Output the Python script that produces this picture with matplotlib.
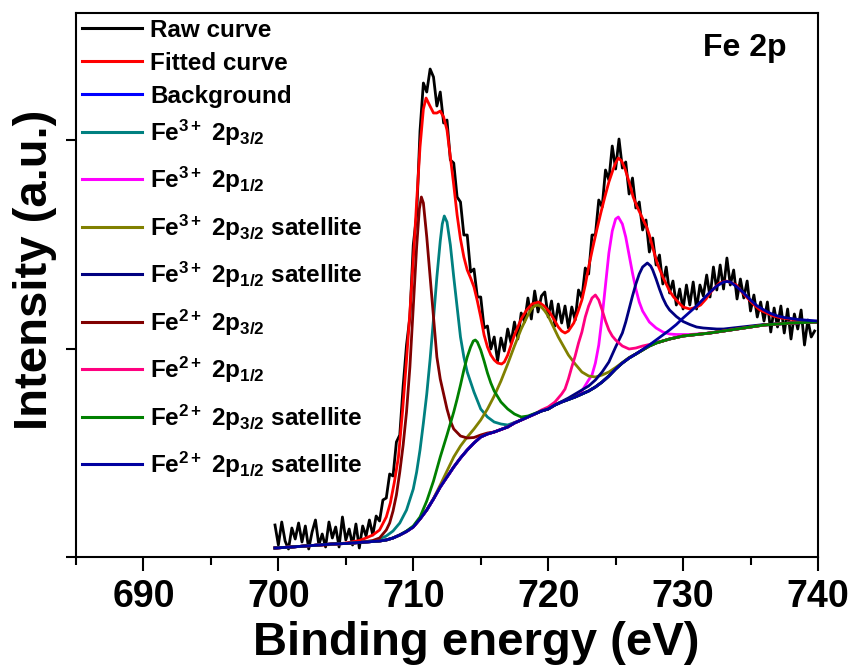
import numpy as np
import matplotlib
matplotlib.use('Agg')
import matplotlib.pyplot as plt
from matplotlib.ticker import MultipleLocator, NullFormatter

# ~~~~~~~~~~~~~~~~~~~~~~~~~~~~~~~~~~~~~~~~~~~~~~~~~~~~~~~~~~~~~~~~~~~~~~~~
# Fe 2p XPS spectrum, intensity in arbitrary units

# raw spectrum, 0.25 eV step from 699.75 eV
raw_counts = [32, 12, 35, 16, 8, 29, 18, 34,
              15, 31, 8, 25, 37, 12, 23, 10,
              35, 19, 30, 10, 40, 17, 28, 12,
              33, 9, 31, 21, 37, 22, 41, 36,
              57, 59, 83, 81, 115, 122, 171, 212,
              240, 312, 342, 426, 474, 465, 488, 480,
              451, 465, 434, 437, 397, 394, 360, 355,
              322, 322, 285, 288, 260, 260, 229, 231,
              208, 220, 196, 219, 206, 228, 214, 235,
              218, 244, 235, 259, 238, 266, 245, 261,
              265, 240, 256, 231, 253, 234, 251, 229,
              250, 237, 267, 259, 289, 283, 322, 322,
              357, 350, 387, 377, 411, 388, 418, 389,
              395, 363, 379, 349, 355, 327, 337, 305,
              319, 292, 302, 273, 290, 264, 276, 252,
              268, 248, 272, 252, 275, 248, 272, 261,
              282, 260, 290, 267, 292, 268, 299, 272,
              287, 258, 278, 259, 276, 246, 262, 240,
              255, 236, 255, 225, 249, 230, 251, 224,
              248, 218, 243, 228, 247, 212, 237, 220,
              226]
raw_energy = np.arange(len(raw_counts)) * 0.25 + 699.75

fit_x = [699.75, 702, 704, 705, 706, 706.5, 707, 707.5, 708, 708.3,
         708.6, 708.9, 709.2, 709.5, 709.75, 710, 710.25, 710.5, 710.75, 710.95,
         711.2, 711.5, 711.75, 712, 712.25, 712.5, 712.75, 713, 713.25, 713.5,
         713.75, 714, 714.25, 714.5, 714.75, 715, 715.25, 715.5, 715.75, 716,
         716.25, 716.55, 716.75, 717, 717.5, 718, 718.4, 718.8, 719.3, 719.7,
         720.1, 720.5, 720.75, 721, 721.25, 721.5, 721.9, 722.2, 722.5, 722.75,
         723, 723.3, 723.6, 723.9, 724.2, 724.5, 724.8, 725, 725.2, 725.45,
         725.7, 726, 726.3, 726.6, 727.05, 727.3, 727.5, 727.8, 728.1, 728.5,
         729, 729.3, 729.7, 730, 730.5, 731, 731.3, 731.7, 732, 732.4,
         732.7, 733.2, 733.6, 733.95, 734.3, 734.7, 735.2, 735.7, 736.2, 736.7,
         737.3, 737.9, 738.8, 739.7, 740]
fit_y = [9, 11, 12.5, 14, 16.5, 19, 22, 27, 40, 54,
         75, 100, 145, 197, 245, 297, 355, 410, 448, 459,
         452, 444, 444, 446, 440, 427, 400, 372, 342, 318,
         300, 287, 279, 270, 256, 240, 222, 210, 202, 197,
         194, 193, 195, 202, 222, 238, 247, 253, 255, 251,
         245, 236, 230, 226, 224, 226, 234, 245, 257, 272,
         290, 309, 327, 344, 360, 375, 387, 394, 399, 396,
         388, 375, 360, 350, 337, 330, 322, 307, 293, 280,
         266, 260, 254, 250, 248, 250, 252, 258, 264, 270,
         274, 276, 274, 272, 266, 260, 253, 247, 244, 241,
         239, 238, 236, 235, 235]

bg_x = [699.75, 701, 702, 703, 704, 705, 706,
        707, 707.5, 708, 708.5, 709, 709.5, 710, 710.5, 711, 711.5,
        712, 712.5, 713, 713.5, 714, 714.5, 715, 715.5, 716, 716.5,
        717, 717.5, 718, 718.5, 719, 719.5, 720, 720.5, 721, 721.5,
        722, 722.5, 723, 723.5, 724, 724.5, 725, 725.5, 726, 726.5,
        727, 727.5, 728, 728.5, 729, 729.5, 730,
        731, 732, 733, 734, 735, 736, 737, 738, 739, 740]
bg_y = [9, 10, 11, 12, 13, 13.5, 14.5,
        15.5, 16, 17, 19, 22, 25.5, 30, 38, 47, 58,
        70, 80, 90, 99, 107, 114, 120, 123, 125, 127.5,
        130, 134, 137, 140, 143, 146, 148, 152, 155, 157.5,
        160, 163, 166, 170, 175, 181, 188, 194, 199, 203,
        207, 211, 214, 216, 218, 219.5, 221,
        222.5, 224, 226, 228, 230, 232, 233, 234, 234.5, 235]

# fitted components (only the part that rises above the background)
fe3_32_x = [707.5, 708, 708.5, 709, 709.5, 710, 710.25, 710.5, 710.75, 711,
            711.25, 711.5, 711.75, 712, 712.15, 712.3, 712.5, 712.75, 713, 713.25,
            713.5, 713.75, 714, 714.5, 715, 715.5, 716, 716.5, 717, 717.5]
fe3_32_y = [18, 21, 26, 34, 47, 68, 85, 107, 134, 163,
            198, 238, 280, 316, 333, 341, 335, 312, 280, 250,
            220, 200, 185, 165, 148, 140, 135, 133, 132, 134.5]

fe3_12_x = [721.5, 722, 722.5, 723, 723.25, 723.5, 723.75, 724, 724.25, 724.5,
            724.75, 725, 725.2, 725.5, 725.75, 726, 726.25, 726.5, 726.75, 727,
            727.5, 728, 728.5, 729, 729.5, 730, 730.5, 731]
fe3_12_y = [158, 162, 166, 177, 182, 194, 212, 240, 272, 304,
            326, 338, 340, 333, 320, 302, 284, 268, 255, 246,
            235, 229, 225, 223, 222.5, 222.5, 222.5, 223]

fe3_32sat_x = [711.5, 712, 712.5, 713, 713.5, 714, 714.5, 715, 715.5, 716,
               716.5, 717, 717.5, 718, 718.5, 718.75, 719, 719.25, 719.5, 719.75,
               720, 720.25, 720.5, 720.75, 721, 721.5, 722, 722.5, 723, 723.5,
               724, 724.5, 725, 725.5, 726]
fe3_32sat_y = [58.5, 72, 86, 100, 111, 120, 128, 137, 148, 161,
               176, 193, 211, 228, 242, 248, 251, 252, 250, 246,
               241, 234, 227, 220, 214, 202, 193, 185, 181, 180,
               182, 185, 189.5, 194.5, 199.5]

fe3_12sat_x = [721, 721.5, 722, 722.5, 723, 723.5, 724, 724.5, 725, 725.5,
               725.75, 726, 726.25, 726.5, 726.75, 727, 727.35, 727.6, 727.75, 728,
               728.25, 728.5, 728.75, 729, 729.5, 730, 730.5, 731, 731.5, 732,
               732.5, 733, 734, 735, 736]
fe3_12sat_y = [155.5, 159, 163, 167, 171, 177, 185, 195, 210, 224,
               235, 248, 261, 273, 283, 290, 294, 291, 287, 278,
               268, 259, 252, 247, 240.5, 235.5, 232.5, 230, 229, 228.5,
               228, 228, 229.5, 231, 232.5]

fe2_32_x = [706.5, 707, 707.5, 708, 708.25, 708.5, 708.75, 709, 709.25, 709.5,
            709.75, 710, 710.25, 710.45, 710.6, 710.75, 711, 711.25, 711.5, 711.75,
            712, 712.25, 712.5, 712.75, 713, 713.5, 714, 714.5, 715, 715.5]
fe2_32_y = [15.5, 16.5, 19, 27, 34, 46, 62, 85, 112, 145,
            190, 250, 310, 348, 360, 354, 320, 280, 240, 200,
            178, 163, 148, 136, 128, 121, 119, 119.5, 122, 124]

fe2_12_x = [719.5, 720, 720.5, 721, 721.25, 721.5, 721.75, 722, 722.25, 722.5,
            722.75, 723, 723.25, 723.5, 723.75, 724, 724.25, 724.5, 724.75, 725,
            725.5, 726, 726.5, 727, 727.5, 728]
fe2_12_y = [147, 150, 155, 163, 168, 178, 190, 201, 214, 225,
            240, 251, 259, 262, 257, 247, 236, 227, 221, 217,
            211, 208, 209, 211, 212.5, 214.5]

fe2_32sat_x = [709.5, 710, 710.5, 711, 711.5, 712, 712.5, 713, 713.25, 713.5,
               713.75, 714, 714.25, 714.45, 714.6, 714.75, 715, 715.25, 715.5, 715.75,
               716, 716.5, 717, 717.5, 718, 718.5, 719, 719.5]
fe2_32sat_y = [26, 31, 40, 56, 76, 100, 122, 145, 158, 172,
               187, 200, 210, 216, 217, 215, 207, 196, 184, 174,
               166, 155, 148, 143, 140, 141, 143.5, 146]

fe2_12sat_x = [727, 727.5, 728, 728.5, 729, 729.5, 730, 730.5, 731, 731.5,
               732, 732.5, 733, 733.25, 733.5, 734, 734.5, 735, 735.5, 736,
               736.5, 737, 737.5, 738, 738.5, 739, 739.5, 740]
fe2_12sat_y = [207.5, 212, 217, 222, 227, 232.5, 239, 245, 251, 258,
               265, 271, 275, 275.5, 275, 270, 264, 257, 251, 247,
               243.5, 241, 239.5, 238.5, 237.5, 237, 236.5, 236]

# ~~~~~~~~~~~~~~~~~~~~~~~~~~~~~~~~~~~~~~~~~~~~~~~~~~~~~~~~~~~~~~~~~~~~~~~~

def with_background(px, py):
    # component = background outside its own range, peak points inside
    xs = [x for x in bg_x if x < px[0]] + list(px) + [x for x in bg_x if x > px[-1]]
    ys = ([y for x, y in zip(bg_x, bg_y) if x < px[0]] + list(py)
          + [y for x, y in zip(bg_x, bg_y) if x > px[-1]])
    return xs, ys

# ~~~~~~~~~~~~~~~~~~~~~~~~~~~~~~~~~~~~~~~~~~~~~~~~~~~~~~~~~~~~~~~~~~~~~~~~

plt.rcParams['font.family'] = ['Liberation Sans', 'DejaVu Sans']
plt.rcParams['font.weight'] = 'bold'
plt.rcParams['mathtext.fontset'] = 'custom'
plt.rcParams['mathtext.rm'] = 'Liberation Sans:bold'
plt.rcParams['mathtext.bf'] = 'Liberation Sans:bold'
plt.rcParams['mathtext.it'] = 'Liberation Sans:bold'
plt.rcParams['mathtext.default'] = 'bf'

fig = plt.figure(figsize=(8.55, 6.71), dpi=100)
ax = fig.add_axes([0.0889, 0.1699, 0.8678, 0.8107])

lw = 2.0
lines = []
lines += ax.plot(raw_energy, raw_counts, color='black', lw=2.0, label='Raw curve')
lines += ax.plot(fit_x, fit_y, color='red', lw=lw, label='Fitted curve')
lines += ax.plot(bg_x, bg_y, color='#0000ff', lw=lw, label='Background')

components = [
    (fe3_32_x, fe3_32_y, '#008080', r'Fe$^{3+}$ 2p$_{3/2}$'),
    (fe3_12_x, fe3_12_y, '#ff00ff', r'Fe$^{3+}$ 2p$_{1/2}$'),
    (fe3_32sat_x, fe3_32sat_y, '#808000', r'Fe$^{3+}$ 2p$_{3/2}$ satellite'),
    (fe3_12sat_x, fe3_12sat_y, '#000080', r'Fe$^{3+}$ 2p$_{1/2}$ satellite'),
    (fe2_32_x, fe2_32_y, '#800000', r'Fe$^{2+}$ 2p$_{3/2}$'),
    (fe2_12_x, fe2_12_y, '#ff0080', r'Fe$^{2+}$ 2p$_{1/2}$'),
    (fe2_32sat_x, fe2_32sat_y, '#008000', r'Fe$^{2+}$ 2p$_{3/2}$ satellite'),
    (fe2_12sat_x, fe2_12sat_y, '#0000a0', r'Fe$^{2+}$ 2p$_{1/2}$ satellite'),
]
for cx, cy, col, lab in components:
    xs, ys = with_background(cx, cy)
    lines += ax.plot(xs, ys, color=col, lw=lw, label=lab)

ax.set_xlim(685, 740)
ax.set_ylim(0, 544)
ax.xaxis.set_major_locator(MultipleLocator(10))
ax.xaxis.set_minor_locator(MultipleLocator(5))
ax.set_yticks([0, 208, 417])
ax.yaxis.set_major_formatter(NullFormatter())

for s in ax.spines.values():
    s.set_linewidth(1.5)
ax.tick_params(axis='x', which='major', direction='out', length=10, width=1.5,
               pad=6, labelsize=27)
ax.tick_params(axis='x', which='minor', direction='out', length=6, width=1.5)
ax.tick_params(axis='y', which='major', direction='out', length=7, width=1.5)

ax.set_xlabel('Binding energy (eV)', fontsize=34, fontweight='bold')
ax.set_ylabel('Intensity (a.u.)', fontsize=34, fontweight='bold')
ax.xaxis.label.set_verticalalignment('baseline')
ax.xaxis.set_label_coords(0.54, -0.181)
ax.yaxis.set_label_coords(-0.026, 0.528)

ax.text(0.902, 0.935, 'Fe 2p', transform=ax.transAxes, ha='center', va='center',
        fontsize=23, fontweight='bold')

# legend drawn entry by entry: the rows with sub/superscripts sit further apart
legend_rows = [0.972, 0.912, 0.851, 0.781, 0.695, 0.607, 0.520, 0.432, 0.346, 0.257, 0.171]
for ln, row in zip(lines, legend_rows):
    ax.plot([0.008, 0.089], [row, row], transform=ax.transAxes,
            color=ln.get_color(), lw=2.2)
    ax.text(0.0997, row - 0.016, ln.get_label(), transform=ax.transAxes,
            va='baseline', ha='left', fontsize=17.5, fontweight='bold')

fig.savefig('out.png', dpi=100)
